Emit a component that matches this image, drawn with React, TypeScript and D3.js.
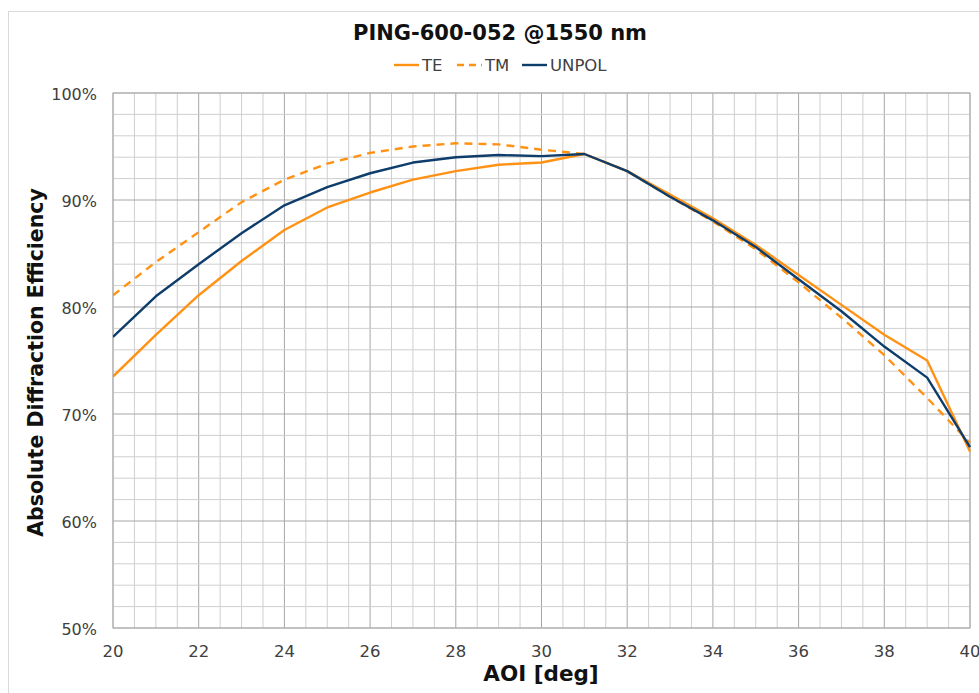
import React from "react";
import * as d3 from "d3";

const aoi = [20, 21, 22, 23, 24, 25, 26, 27, 28, 29, 30, 31, 32, 33, 34, 35, 36, 37, 38, 39, 40];
const teValues = [73.5, 77.4, 81.1, 84.3, 87.2, 89.3, 90.7, 91.9, 92.7, 93.3, 93.5, 94.3, 92.7, 90.5, 88.3, 85.8, 83.0, 80.2, 77.4, 75.0, 66.5];
const tmValues = [81.1, 84.2, 87.0, 89.8, 91.9, 93.4, 94.4, 95.0, 95.3, 95.2, 94.7, 94.3, 92.7, 90.3, 88.0, 85.4, 82.3, 79.0, 75.5, 71.5, 67.3];
const unpolValues = [77.2, 81.0, 84.0, 86.9, 89.5, 91.2, 92.5, 93.5, 94.0, 94.2, 94.1, 94.3, 92.7, 90.3, 88.1, 85.6, 82.6, 79.6, 76.3, 73.4, 66.9];
const xTicks = [20, 22, 24, 26, 28, 30, 32, 34, 36, 38, 40];
const yTicks = [50, 60, 70, 80, 90, 100];

const W = 979;
const H = 693;
const left = 113;
const right = 970;
const top = 93;
const bottom = 628;
const FONT = "'DejaVu Sans', Verdana, sans-serif";
const ORANGE = "#FF9214";
const NAVY = "#0E3D6B";

export default function App() {
  const x = d3.scaleLinear().domain([20, 40]).range([left, right]);
  const y = d3.scaleLinear().domain([50, 100]).range([bottom, top]);
  const minorX = d3.range(20, 40.001, 0.5);
  const minorY = d3.range(50, 100.001, 2);
  const line = d3
    .line<number>()
    .x((_, i) => x(aoi[i]))
    .y((d) => y(d));

  const series = [
    { name: "TE", values: teValues, color: ORANGE, dash: undefined as string | undefined },
    { name: "TM", values: tmValues, color: ORANGE, dash: "8,6" },
    { name: "UNPOL", values: unpolValues, color: NAVY, dash: undefined as string | undefined },
  ];
  const legendX = [394, 457, 522];

  return (
    <svg
      width={W}
      height={H}
      style={{ position: "absolute", left: 0, top: 0, background: "#fff" }}
      fontFamily={FONT}
    >
      <rect x={8.5} y={11.5} width={W} height={H} fill="#fff" stroke="#d9d9d9" />
      <defs>
        <clipPath id="plot">
          <rect x={left} y={top - 2} width={right - left + 2} height={bottom - top + 4} />
        </clipPath>
      </defs>
      {minorX.map((v) => (
        <line
          key={"mx" + v}
          x1={x(v)}
          x2={x(v)}
          y1={top}
          y2={bottom}
          stroke={v % 2 === 0 ? "#a6a6a6" : "#cfcfcf"}
          strokeWidth={1}
        />
      ))}
      {minorY.map((v) => (
        <line
          key={"my" + v}
          x1={left}
          x2={right}
          y1={y(v)}
          y2={y(v)}
          stroke={v % 10 === 0 ? "#a6a6a6" : "#cfcfcf"}
          strokeWidth={1}
        />
      ))}
      <rect x={left} y={top} width={right - left} height={bottom - top} fill="none" stroke="#b0b0b0" />
      <g clipPath="url(#plot)">
        {series.map((s) => (
          <path
            key={s.name}
            d={line(s.values) || ""}
            fill="none"
            stroke={s.color}
            strokeWidth={2.4}
            strokeDasharray={s.dash}
            strokeLinejoin="round"
          />
        ))}
      </g>
      {yTicks.map((v) => (
        <text key={"yt" + v} x={97} y={y(v) + 6.5} textAnchor="end" fontSize={16} fill="#404040">
          {v}%
        </text>
      ))}
      {xTicks.map((v) => (
        <text key={"xt" + v} x={x(v)} y={657} textAnchor="middle" fontSize={16.5} fill="#404040">
          {v}
        </text>
      ))}
      <text x={500} y={40} textAnchor="middle" fontSize={21} fontWeight="bold" fill="#111">
        PING-600-052 @1550 nm
      </text>
      {series.map((s, i) => (
        <g key={"lg" + s.name}>
          <line
            x1={legendX[i]}
            x2={legendX[i] + 25}
            y1={65}
            y2={65}
            stroke={s.color}
            strokeWidth={2.4}
            strokeDasharray={s.dash ? "7,5" : undefined}
          />
          <text x={legendX[i] + 28} y={71} fontSize={16.5} fill="#404040">
            {s.name}
          </text>
        </g>
      ))}
      <text x={541} y={681} textAnchor="middle" fontSize={21.5} fontWeight="bold" fill="#111">
        AOI [deg]
      </text>
      <text
        transform={`translate(43,${(top + bottom) / 2 + 2}) rotate(-90)`}
        textAnchor="middle"
        fontSize={20.5}
        fontWeight="bold"
        fill="#111"
      >
        Absolute Diffraction Efficiency
      </text>
    </svg>
  );
}
